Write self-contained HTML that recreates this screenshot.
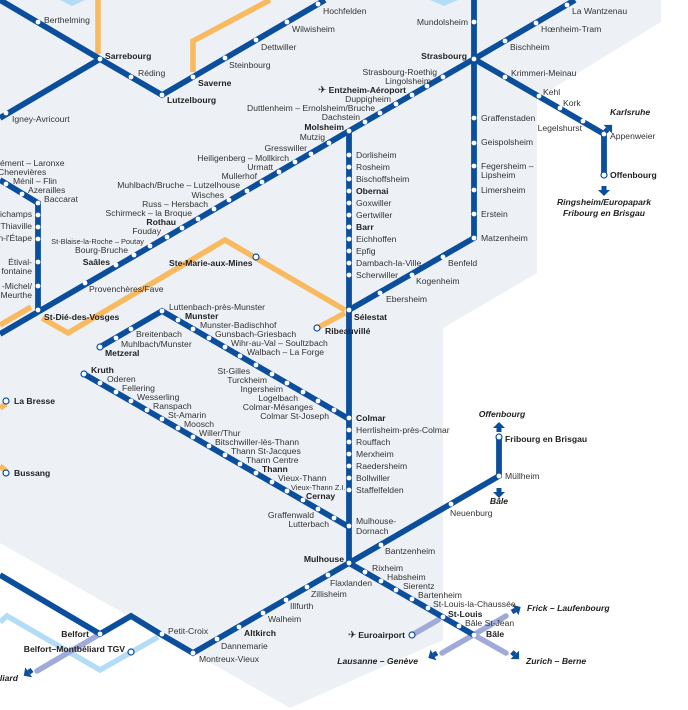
<!DOCTYPE html>
<html><head><meta charset="utf-8"><style>
html,body{margin:0;padding:0;background:#fff;}
svg{display:block;}
text{font-family:"Liberation Sans",sans-serif;font-size:8.6px;fill:#333;}
.b{font-weight:bold;fill:#222;}
.bi{font-weight:bold;font-style:italic;fill:#222;}
.e{text-anchor:end;}
.m{text-anchor:middle;}
.s{font-size:7.4px;}
</style></head><body>
<svg width="688" height="710" viewBox="0 0 688 710" xmlns="http://www.w3.org/2000/svg">
<polygon points="0,0 661,0 661,22 537,98 537,273 443,328 443,640 290,708 0,543" fill="#edf1f5"/>
<polygon points="60,0 85,0 72,6" fill="#b3dcf7"/>
<polygon points="430,0 458,0 444,6" fill="#b3dcf7"/>
<g fill="none" stroke-linejoin="miter" stroke-linecap="butt">
<g stroke="#f9b95f" stroke-width="5.5">
<polyline points="98,0 98,54"/>
<polyline points="193,72 193,41 270,0"/>
<polyline points="0,325 31,307"/>
<polyline points="42,318 68,333 225,240 345,310"/>
<polyline points="317,328 345,313"/>
<polyline points="0,408 6,404"/>
<polyline points="0,466 6,471"/>
</g>
<polyline stroke="#b3dcf7" stroke-width="5.5" points="0,622 7,616 100,670 158,637"/>
<g stroke="#a0aad8" stroke-width="5.5" stroke-linecap="round">
<polyline points="100,634 37,671"/>
<polyline points="412,635 438,620"/>
<polyline points="442,653 506,616"/>
<polyline points="474,635 506,653"/>
</g>
<g stroke="#0b4f9c" stroke-width="5.8">
<polyline points="0,0 100,59 162,95 325,0"/>
<polyline points="100,59 0,118"/>
<polyline points="474,0 474,238 349,310"/>
<polyline points="474,59 575,0"/>
<polyline points="474,59 604,134 604,175"/>
<polyline points="474,59 349,131 0,334"/>
<polyline points="349,131 349,563"/>
<polyline points="0,180 38,203 38,310"/>
<polyline points="100,347 162,311 349,419"/>
<polyline points="84,374 349,527"/>
<polyline points="499,437 499,476 349,563 193,653 162,635 131,616 100,634 0,575"/>
<polyline points="349,563 474,635"/>
</g>
</g>
<g fill="#fff">
<circle cx="38" cy="22" r="2.4"/><circle cx="100" cy="59" r="2.4"/><circle cx="131" cy="77" r="2.4"/><circle cx="162" cy="95" r="2.4"/>
<circle cx="193" cy="77" r="2.4"/><circle cx="225" cy="58" r="2.4"/><circle cx="256" cy="40" r="2.4"/><circle cx="287" cy="22" r="2.4"/><circle cx="318" cy="4" r="2.4"/><circle cx="6" cy="113" r="2.4"/>
<circle cx="474" cy="22" r="2.4"/><circle cx="474" cy="59" r="2.4"/><circle cx="474" cy="118" r="2.4"/><circle cx="474" cy="143" r="2.4"/><circle cx="474" cy="166" r="2.4"/><circle cx="474" cy="190" r="2.4"/><circle cx="474" cy="214" r="2.4"/><circle cx="474" cy="238" r="2.4"/>
<circle cx="443" cy="257" r="2.4"/><circle cx="412" cy="275" r="2.4"/><circle cx="380" cy="293" r="2.4"/>
<circle cx="505" cy="41" r="2.4"/><circle cx="536" cy="23" r="2.4"/><circle cx="567" cy="5" r="2.4"/>
<circle cx="505" cy="77" r="2.4"/><circle cx="539" cy="96" r="2.4"/><circle cx="560" cy="108" r="2.4"/><circle cx="583" cy="121" r="2.4"/><circle cx="604" cy="134" r="2.4"/>
<circle cx="443" cy="77" r="2.4"/><circle cx="427" cy="86" r="2.4"/><circle cx="412" cy="95" r="2.4"/><circle cx="396" cy="104" r="2.4"/><circle cx="380" cy="113" r="2.4"/><circle cx="365" cy="122" r="2.4"/><circle cx="349" cy="131" r="2.4"/>
<circle cx="329" cy="143" r="2.4"/><circle cx="311" cy="154" r="2.4"/><circle cx="295" cy="162" r="2.4"/><circle cx="279" cy="172" r="2.4"/><circle cx="262" cy="182" r="2.4"/><circle cx="247" cy="191" r="2.4"/><circle cx="229" cy="200" r="2.4"/><circle cx="214" cy="209" r="2.4"/><circle cx="198" cy="219" r="2.4"/><circle cx="182" cy="228" r="2.4"/><circle cx="167" cy="237" r="2.4"/><circle cx="150" cy="246" r="2.4"/><circle cx="134" cy="255" r="2.4"/><circle cx="116" cy="265" r="2.4"/><circle cx="85" cy="283" r="2.4"/><circle cx="38" cy="310" r="2.4"/>
<circle cx="349" cy="155" r="2.4"/><circle cx="349" cy="167" r="2.4"/><circle cx="349" cy="179" r="2.4"/><circle cx="349" cy="191" r="2.4"/><circle cx="349" cy="203" r="2.4"/><circle cx="349" cy="215" r="2.4"/><circle cx="349" cy="227" r="2.4"/><circle cx="349" cy="239" r="2.4"/><circle cx="349" cy="251" r="2.4"/><circle cx="349" cy="263" r="2.4"/><circle cx="349" cy="275" r="2.4"/><circle cx="349" cy="310" r="2.4"/>
<circle cx="349" cy="418" r="2.4"/><circle cx="349" cy="430" r="2.4"/><circle cx="349" cy="442" r="2.4"/><circle cx="349" cy="454" r="2.4"/><circle cx="349" cy="466" r="2.4"/><circle cx="349" cy="478" r="2.4"/><circle cx="349" cy="490" r="2.4"/><circle cx="349" cy="526" r="2.4"/><circle cx="349" cy="563" r="2.4"/>
<circle cx="38" cy="203" r="2.4"/><circle cx="38" cy="215" r="2.4"/><circle cx="38" cy="227" r="2.4"/><circle cx="38" cy="239" r="2.4"/><circle cx="38" cy="262" r="2.4"/><circle cx="38" cy="286" r="2.4"/><circle cx="22" cy="194" r="2.4"/><circle cx="6" cy="184" r="2.4"/>
<circle cx="116" cy="338" r="2.4"/><circle cx="131" cy="329" r="2.4"/><circle cx="162" cy="311" r="2.4"/>
<circle cx="178" cy="320" r="2.4"/><circle cx="193" cy="329" r="2.4"/><circle cx="209" cy="338" r="2.4"/><circle cx="225" cy="347" r="2.4"/><circle cx="240" cy="356" r="2.4"/><circle cx="256" cy="365" r="2.4"/><circle cx="272" cy="374" r="2.4"/><circle cx="287" cy="383" r="2.4"/><circle cx="303" cy="392" r="2.4"/><circle cx="318" cy="401" r="2.4"/><circle cx="334" cy="410" r="2.4"/>
<circle cx="100" cy="383" r="2.4"/><circle cx="116" cy="392" r="2.4"/><circle cx="131" cy="401" r="2.4"/><circle cx="147" cy="410" r="2.4"/><circle cx="162" cy="419" r="2.4"/><circle cx="178" cy="428" r="2.4"/><circle cx="193" cy="437" r="2.4"/><circle cx="209" cy="446" r="2.4"/><circle cx="225" cy="455" r="2.4"/><circle cx="240" cy="464" r="2.4"/><circle cx="256" cy="473" r="2.4"/><circle cx="272" cy="482" r="2.4"/><circle cx="287" cy="491" r="2.4"/><circle cx="303" cy="500" r="2.4"/><circle cx="318" cy="509" r="2.4"/><circle cx="334" cy="518" r="2.4"/>
<circle cx="381" cy="545" r="2.4"/><circle cx="451" cy="504" r="2.4"/><circle cx="499" cy="476" r="2.4"/>
<circle cx="365" cy="572" r="2.4"/><circle cx="381" cy="581" r="2.4"/><circle cx="396" cy="590" r="2.4"/><circle cx="412" cy="599" r="2.4"/><circle cx="428" cy="608" r="2.4"/><circle cx="443" cy="617" r="2.4"/><circle cx="459" cy="626" r="2.4"/><circle cx="474" cy="635" r="2.4"/>
<circle cx="328" cy="575" r="2.4"/><circle cx="307" cy="587" r="2.4"/><circle cx="286" cy="600" r="2.4"/><circle cx="263" cy="613" r="2.4"/><circle cx="239" cy="627" r="2.4"/><circle cx="217" cy="639" r="2.4"/><circle cx="193" cy="653" r="2.4"/><circle cx="162" cy="634" r="2.4"/><circle cx="100" cy="634" r="2.4"/>
</g>
<g fill="#fff" stroke-width="1.2">
<circle cx="604" cy="175" r="3" stroke="#0b4f9c"/><circle cx="499" cy="437" r="3" stroke="#0b4f9c"/>
<circle cx="100" cy="347" r="3" stroke="#0b4f9c"/><circle cx="84" cy="374" r="3" stroke="#0b4f9c"/>
<circle cx="256" cy="257" r="3" stroke="#0b4f9c"/><circle cx="317" cy="328" r="3" stroke="#0b4f9c"/>
<circle cx="6" cy="401" r="3" stroke="#0b4f9c"/><circle cx="6" cy="473" r="3" stroke="#0b4f9c"/>
<circle cx="131" cy="652" r="3" stroke="#0b4f9c"/><circle cx="412" cy="635" r="3" stroke="#0b4f9c"/>
</g>
<g fill="#0b4f9c">
<g transform="translate(604,186)"><rect x="-2.5" y="0" width="5" height="4"/><polygon points="-6,4 6,4 0,10"/></g>
<g transform="translate(499,488)"><rect x="-2.5" y="0" width="5" height="4"/><polygon points="-6,4 6,4 0,10"/></g>
<g transform="translate(499,432) rotate(180)"><rect x="-2.5" y="0" width="5" height="4"/><polygon points="-6,4 6,4 0,10"/></g>
<g transform="translate(605,132) rotate(-135)"><rect x="-2.5" y="0" width="5" height="4"/><polygon points="-6,4 6,4 0,10"/></g>
<g transform="translate(512,612) rotate(-120)"><rect x="-2.5" y="0" width="5" height="4"/><polygon points="-6,4 6,4 0,10"/></g>
<g transform="translate(437,653) rotate(60)"><rect x="-2.5" y="0" width="5" height="4"/><polygon points="-6,4 6,4 0,10"/></g>
<g transform="translate(512,652) rotate(-45)"><rect x="-2.5" y="0" width="5" height="4"/><polygon points="-6,4 6,4 0,10"/></g>
<g transform="translate(32,670) rotate(55)"><rect x="-2.5" y="0" width="5" height="4"/><polygon points="-6,4 6,4 0,10"/></g>
</g>
<text x="44" y="23">Berthelming</text>
<text x="105" y="59" class="b">Sarrebourg</text>
<text x="138" y="76">Réding</text>
<text x="167" y="103" class="b">Lutzelbourg</text>
<text x="198" y="86" class="b">Saverne</text>
<text x="229" y="68">Steinbourg</text>
<text x="261" y="50">Dettwiller</text>
<text x="292" y="32">Wilwisheim</text>
<text x="323" y="14">Hochfelden</text>
<text x="12" y="122">Igney-Avricourt</text>
<text x="468" y="25" class="e">Mundolsheim</text>
<text x="467" y="59" class="e b">Strasbourg</text>
<text x="437" y="75" class="e">Strasbourg-Roethig</text>
<text x="431" y="84" class="e">Lingolsheim</text>
<text x="406" y="93" class="e b">Entzheim-Aéroport</text>
<text x="318" y="93" style="font-size:10px;fill:#222">✈</text>
<text x="391" y="102" class="e">Duppigheim</text>
<text x="375" y="111" class="e">Duttlenheim – Ernolsheim/Bruche</text>
<text x="360" y="120" class="e">Dachstein</text>
<text x="344" y="130" class="e b">Molsheim</text>
<text x="325" y="140" class="e">Mutzig</text>
<text x="307" y="151" class="e">Gresswiller</text>
<text x="289" y="161" class="e">Heiligenberg – Mollkirch</text>
<text x="273" y="170" class="e">Urmatt</text>
<text x="257" y="179" class="e">Mullerhof</text>
<text x="240" y="188" class="e">Muhlbach/Bruche – Lutzelhouse</text>
<text x="224" y="198" class="e">Wisches</text>
<text x="208" y="207" class="e">Russ – Hersbach</text>
<text x="192" y="216" class="e">Schirmeck – la Broque</text>
<text x="176" y="225" class="e b">Rothau</text>
<text x="161" y="234" class="e">Fouday</text>
<text x="144" y="244" class="e s">St-Blaise-la-Roche – Poutay</text>
<text x="128" y="253" class="e">Bourg-Bruche</text>
<text x="110" y="265" class="e b">Saâles</text>
<text x="89" y="292">Provenchères/Fave</text>
<text x="44" y="320" class="b">St-Dié-des-Vosges</text>
<text x="0" y="166">ément – Laronxe</text>
<text x="-2" y="175">Chenevières</text>
<text x="13" y="184">Ménil – Flin</text>
<text x="28" y="193">Azerailles</text>
<text x="44" y="202">Baccarat</text>
<text x="32" y="217" class="e">ichamps</text>
<text x="32" y="229" class="e">Thiaville</text>
<text x="32" y="241" class="e">n-l'Étape</text>
<text x="32" y="265" class="e">Étival-</text>
<text x="32" y="274" class="e">fontaine</text>
<text x="32" y="289" class="e">-Michel/</text>
<text x="32" y="298" class="e">Meurthe</text>
<text x="481" y="121">Graffenstaden</text>
<text x="481" y="145">Geispolsheim</text>
<text x="481" y="169">Fegersheim –</text>
<text x="481" y="178">Lipsheim</text>
<text x="481" y="193">Limersheim</text>
<text x="481" y="217">Erstein</text>
<text x="481" y="241">Matzenheim</text>
<text x="510" y="50">Bischheim</text>
<text x="541" y="32">Hœnheim-Tram</text>
<text x="572" y="14">La Wantzenau</text>
<text x="511" y="76">Krimmeri-Meinau</text>
<text x="543" y="95">Kehl</text>
<text x="563" y="106">Kork</text>
<text x="582" y="131" class="e">Legelshurst</text>
<text x="610" y="139">Appenweier</text>
<text x="610" y="178" class="b">Offenbourg</text>
<text x="610" y="115" class="bi">Karlsruhe</text>
<text x="604" y="205" class="m bi">Ringsheim/Europapark</text>
<text x="604" y="216" class="m bi">Fribourg en Brisgau</text>
<text x="448" y="266">Benfeld</text>
<text x="416" y="284">Kogenheim</text>
<text x="386" y="302">Ebersheim</text>
<text x="356" y="158">Dorlisheim</text>
<text x="356" y="170">Rosheim</text>
<text x="356" y="182">Bischoffsheim</text>
<text x="356" y="194" class="b">Obernai</text>
<text x="356" y="206">Goxwiller</text>
<text x="356" y="218">Gertwiller</text>
<text x="356" y="230" class="b">Barr</text>
<text x="356" y="242">Eichhoffen</text>
<text x="356" y="254">Epfig</text>
<text x="356" y="266">Dambach-la-Ville</text>
<text x="356" y="278">Scherwiller</text>
<text x="354" y="320" class="b">Sélestat</text>
<text x="325" y="334" class="b">Ribeauvillé</text>
<text x="169" y="266" class="b">Ste-Marie-aux-Mines</text>
<text x="169" y="310">Luttenbach-près-Munster</text>
<text x="185" y="319" class="b">Munster</text>
<text x="200" y="328">Munster-Badischhof</text>
<text x="215" y="337">Gunsbach-Griesbach</text>
<text x="231" y="346">Wihr-au-Val – Soultzbach</text>
<text x="247" y="355">Walbach – La Forge</text>
<text x="136" y="337">Breitenbach</text>
<text x="121" y="347">Muhlbach/Munster</text>
<text x="105" y="356" class="b">Metzeral</text>
<text x="250" y="374" class="e">St-Gilles</text>
<text x="267" y="383" class="e">Turckheim</text>
<text x="283" y="392" class="e">Ingersheim</text>
<text x="298" y="401" class="e">Logelbach</text>
<text x="313" y="410" class="e">Colmar-Mésanges</text>
<text x="329" y="419" class="e">Colmar St-Joseph</text>
<text x="356" y="421" class="b">Colmar</text>
<text x="356" y="433">Herrlisheim-près-Colmar</text>
<text x="356" y="445">Rouffach</text>
<text x="356" y="457">Merxheim</text>
<text x="356" y="469">Raedersheim</text>
<text x="356" y="481">Bollwiller</text>
<text x="356" y="493">Staffelfelden</text>
<text x="356" y="524">Mulhouse-</text>
<text x="356" y="534">Dornach</text>
<text x="91" y="373" class="b">Kruth</text>
<text x="107" y="382">Oderen</text>
<text x="122" y="391">Fellering</text>
<text x="137" y="400">Wesserling</text>
<text x="153" y="409">Ranspach</text>
<text x="168" y="418">St-Amarin</text>
<text x="184" y="427">Moosch</text>
<text x="199" y="436">Willer/Thur</text>
<text x="215" y="445">Bitschwiller-lès-Thann</text>
<text x="231" y="454">Thann St-Jacques</text>
<text x="246" y="463">Thann Centre</text>
<text x="262" y="472" class="b">Thann</text>
<text x="278" y="481">Vieux-Thann</text>
<text x="291" y="490" class="s">Vieux-Thann Z.I.</text>
<text x="306" y="499" class="b">Cernay</text>
<text x="314" y="518" class="e">Graffenwald</text>
<text x="329" y="527" class="e">Lutterbach</text>
<text x="14" y="404" class="b">La Bresse</text>
<text x="14" y="476" class="b">Bussang</text>
<text x="344" y="562" class="e b">Mulhouse</text>
<text x="385" y="554">Bantzenheim</text>
<text x="450" y="516">Neuenburg</text>
<text x="505" y="479">Müllheim</text>
<text x="499" y="504" class="m bi">Bâle</text>
<text x="505" y="442" class="b">Fribourg en Brisgau</text>
<text x="502" y="417" class="m bi">Offenbourg</text>
<text x="330" y="586">Flaxlanden</text>
<text x="311" y="597">Zillisheim</text>
<text x="290" y="609">Illfurth</text>
<text x="268" y="622">Walheim</text>
<text x="244" y="636" class="b">Altkirch</text>
<text x="221" y="649">Dannemarie</text>
<text x="199" y="662">Montreux-Vieux</text>
<text x="168" y="634">Petit-Croix</text>
<text x="89" y="637" class="e b">Belfort</text>
<text x="125" y="652" class="e b">Belfort–Montbéliard TGV</text>
<text x="18" y="681" class="e bi">liard</text>
<text x="372" y="571">Rixheim</text>
<text x="387" y="580">Habsheim</text>
<text x="403" y="589">Sierentz</text>
<text x="418" y="598">Bartenheim</text>
<text x="433" y="607">St-Louis-la-Chaussée</text>
<text x="448" y="617" class="b">St-Louis</text>
<text x="465" y="626">Bâle St-Jean</text>
<text x="486" y="637" class="b">Bâle</text>
<text x="405" y="638" class="e b">Euroairport</text>
<text x="348" y="638" style="font-size:10px;fill:#222">✈</text>
<text x="527" y="611" class="bi">Frick – Laufenbourg</text>
<text x="418" y="664" class="e bi">Lausanne – Genève</text>
<text x="526" y="664" class="bi">Zurich – Berne</text>
</svg>
</body></html>
